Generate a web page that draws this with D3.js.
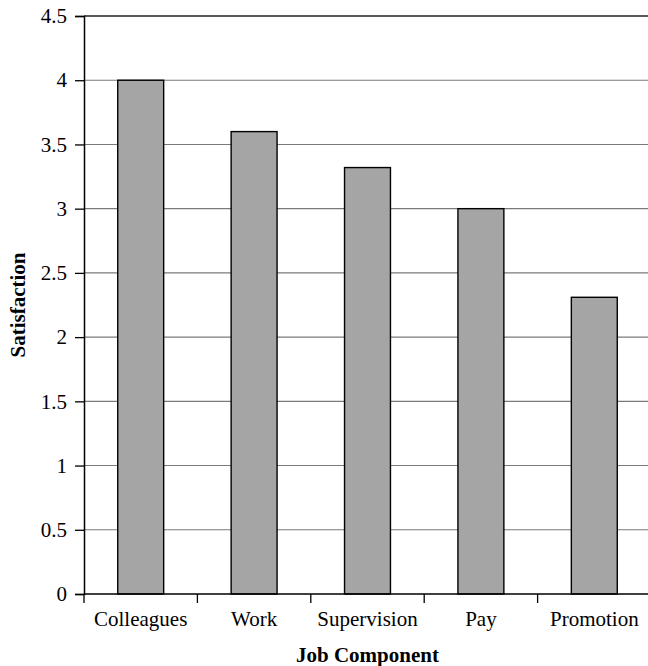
<!DOCTYPE html>
<html>
<head>
<meta charset="utf-8">
<script src="https://cdn.jsdelivr.net/npm/d3@7"></script>
<style>
  body { margin: 0; background: #fff; }
  text { font-family: "Liberation Serif", "Times New Roman", serif; }
</style>
</head>
<body>
<div class="plot"></div>
<script>
// job satisfaction by component

var categories = ["Colleagues", "Work", "Supervision", "Pay", "Promotion"];
var satisfaction = [4.0, 3.6, 3.32, 3.0, 2.31];
var yTicks = [0, 0.5, 1, 1.5, 2, 2.5, 3, 3.5, 4, 4.5];

var svgWidth = 648;
var svgHeight = 666;

var margin = { top: 16, right: -3, bottom: 72, left: 84 };

var width = svgWidth - margin.left - margin.right;
var height = svgHeight - margin.top - margin.bottom;

var svg = d3.select(".plot")
  .append("svg")
  .attr("width", svgWidth)
  .attr("height", svgHeight);

var chartGroup = svg.append("g")
  .attr("transform", `translate(${margin.left}, ${margin.top})`);

// scales
var xBandScale = d3.scaleBand()
  .domain(categories)
  .range([0, width])
  .paddingInner(0.595)
  .paddingOuter(0.2975);

var yLinearScale = d3.scaleLinear()
  .domain([0, 4.5])
  .range([height, 0]);

// gridlines
chartGroup.selectAll(".grid")
  .data(yTicks.filter(t => t > 0))
  .enter()
  .append("line")
  .attr("x1", 0)
  .attr("x2", width)
  .attr("y1", d => yLinearScale(d))
  .attr("y2", d => yLinearScale(d))
  .attr("stroke", d => d === 4.5 ? "#222" : "#7a7a7a")
  .attr("stroke-width", d => d === 4.5 ? 1.4 : 1.1);

// bars
chartGroup.selectAll("rect")
  .data(satisfaction)
  .enter()
  .append("rect")
  .attr("x", (d, i) => xBandScale(categories[i]))
  .attr("y", d => yLinearScale(d))
  .attr("width", xBandScale.bandwidth())
  .attr("height", d => height - yLinearScale(d))
  .attr("fill", "#a5a5a5")
  .attr("stroke", "#000")
  .attr("stroke-width", 1.4);

// axes
var leftAxis = d3.axisLeft(yLinearScale)
  .tickValues(yTicks)
  .tickFormat(d => d)
  .tickSize(9)
  .tickPadding(8);

var yAxisG = chartGroup.append("g")
  .call(leftAxis);
yAxisG.select(".domain").attr("stroke", "#000").attr("stroke-width", 1.5);
yAxisG.selectAll(".tick line").attr("stroke", "#000").attr("stroke-width", 1.3);
yAxisG.selectAll("text")
  .attr("font-family", "'Liberation Serif', serif")
  .attr("font-size", 21)
  .attr("fill", "#000");

// category boundary ticks on the x axis
var step = xBandScale.step();
var xAxisG = chartGroup.append("g")
  .attr("transform", `translate(0, ${height})`);

xAxisG.append("line")
  .attr("x1", 0)
  .attr("x2", width)
  .attr("stroke", "#000")
  .attr("stroke-width", 1.5);

xAxisG.selectAll(".xtick")
  .data(d3.range(categories.length + 1))
  .enter()
  .append("line")
  .attr("x1", i => i * step)
  .attr("x2", i => i * step)
  .attr("y1", 0)
  .attr("y2", 9)
  .attr("stroke", "#000")
  .attr("stroke-width", 1.3);

xAxisG.selectAll(".xlabel")
  .data(categories)
  .enter()
  .append("text")
  .attr("x", d => xBandScale(d) + xBandScale.bandwidth() / 2)
  .attr("y", 32)
  .attr("text-anchor", "middle")
  .attr("font-size", 21)
  .attr("fill", "#000")
  .text(d => d);

// axis titles
chartGroup.append("text")
  .attr("transform", `translate(${-59}, ${height / 2}) rotate(-90)`)
  .attr("text-anchor", "middle")
  .attr("font-size", 21)
  .attr("font-weight", "bold")
  .text("Satisfaction");

chartGroup.append("text")
  .attr("x", width / 2)
  .attr("y", height + 68)
  .attr("text-anchor", "middle")
  .attr("font-size", 21)
  .attr("font-weight", "bold")
  .text("Job Component");
</script>
</body>
</html>
